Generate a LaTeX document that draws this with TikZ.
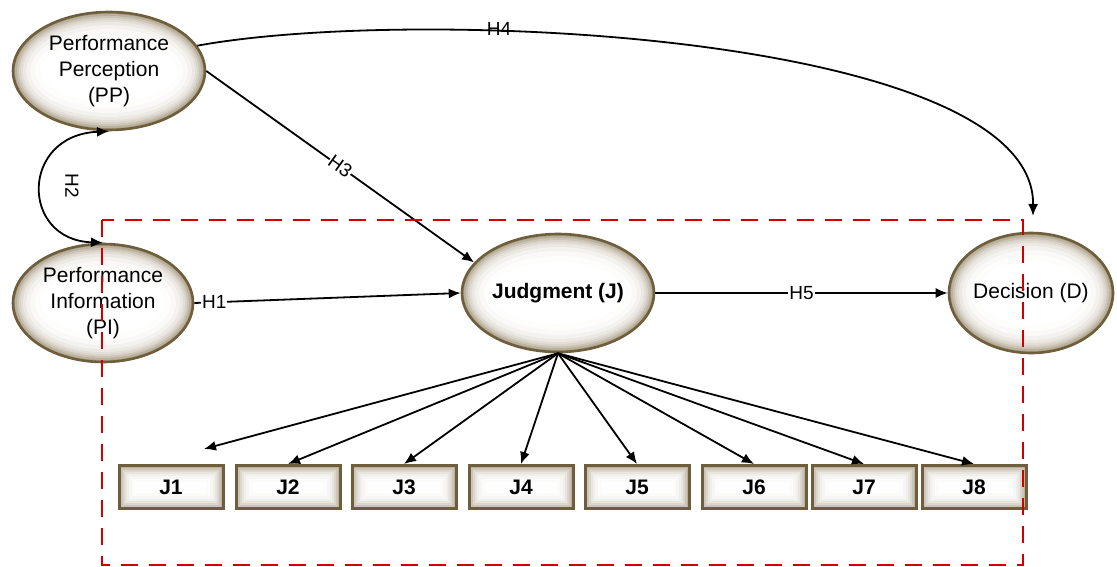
\documentclass[tikz,border=0pt]{standalone}
\usepackage{fontspec}
\setmainfont{Liberation Sans}
\usetikzlibrary{shapes.geometric,arrows.meta}
\definecolor{rimdark}{HTML}{6E5E3C}
\definecolor{rimglow}{HTML}{A89C84}
\definecolor{boxred}{HTML}{D00000}
\tikzset{
  construct/.style={ellipse, draw=rimdark, line width=2.6pt, align=center, inner sep=0pt,
     font=\fontsize{21}{26}\selectfont,
     path picture={\foreach \dd/\cc in {0/100,2/80,4/60,6/44,8/32,10/22,13/13,17/6,22/2,28/0}
        {\fill[rimglow!\cc!white] (path picture bounding box.center) ellipse
           [x radius=\pgfkeysvalueof{/pgf/minimum width}/2-\dd pt,
            y radius=\pgfkeysvalueof{/pgf/minimum height}/2-\dd pt];}}},
  itembox/.style={rectangle, draw=rimdark, line width=3pt, minimum width=104pt, minimum height=43pt,
     inner sep=0pt, font=\fontsize{21}{26}\selectfont\bfseries,
     path picture={\foreach \dd/\cc in {0/80,2/58,4/40,6/26,8/16,10/9,13/4,16/1}
        {\fill[rimglow!\cc!white] ([shift={(\dd pt,\dd pt)}]path picture bounding box.south west)
            rectangle ([shift={(-\dd pt,-\dd pt)}]path picture bounding box.north east);}}},
  conn/.style={line width=1.8pt, -{Latex[length=12pt,width=10pt]}},
  hlabel/.style={font=\fontsize{19}{22}\selectfont, inner sep=1pt},
}
\begin{document}
\begin{tikzpicture}[x=1pt,y=-1pt]
\useasboundingbox (0,0) rectangle (1117,567);
% constructs
\node[construct, minimum width=192pt, minimum height=118pt] (PP) at (109,71) {Performance\\Perception\\(PP)};
\node[construct, minimum width=180pt, minimum height=118pt] (PI) at (103,303) {Performance\\Information\\(PI)};
\node[construct, minimum width=192pt, minimum height=118pt, font=\fontsize{21}{26}\selectfont\bfseries] (J) at (558,293) {Judgment (J)};
\node[construct, minimum width=164pt, minimum height=120pt] (D) at (1031,293) {Decision (D)};
% items
\node[itembox] (J1) at (171,487) {J1};
\node[itembox] (J2) at (288,487) {J2};
\node[itembox] (J3) at (404,487) {J3};
\node[itembox] (J4) at (521,487) {J4};
\node[itembox] (J5) at (637,487) {J5};
\node[itembox] (J6) at (754,487) {J6};
\node[itembox] (J7) at (864,487) {J7};
\node[itembox] (J8) at (974,487) {J8};
\coordinate (J1top) at (204,449);
\coordinate (Dtop) at (1033,216);
% hypotheses
\draw[conn] (PI.east) -- node[hlabel, fill=white, pos=0.075] {H1} (J.west);
\draw[line width=1.8pt, {Latex[length=12pt,width=10pt]}-{Latex[length=12pt,width=10pt]}]
  (PI.north) .. controls (20,240) and (20,135) .. (PP.south);
\node[hlabel, rotate=-90] (H2) at (72,186) {H2};
\draw[conn] (PP.east) -- node[hlabel, fill=white, sloped, inner sep=0.5pt] {H3} (J.160);
\draw[conn] (PP.16) .. controls (420,5) and (1035,35) .. (Dtop);
\node[hlabel] (H4) at (499,29) {H4};
\draw[conn] (J.east) -- node[hlabel, fill=white] {H5} (D.west);
% items arrows
\draw[conn] (J.south) -- (J1top);
\foreach \k in {2,...,8} { \draw[conn] (J.south) -- (J\k.north); }
% dashed frame
\draw[boxred, line width=2pt, dash pattern=on 17pt off 11pt] (102,220) rectangle (1023,565);
\end{tikzpicture}
\end{document}
